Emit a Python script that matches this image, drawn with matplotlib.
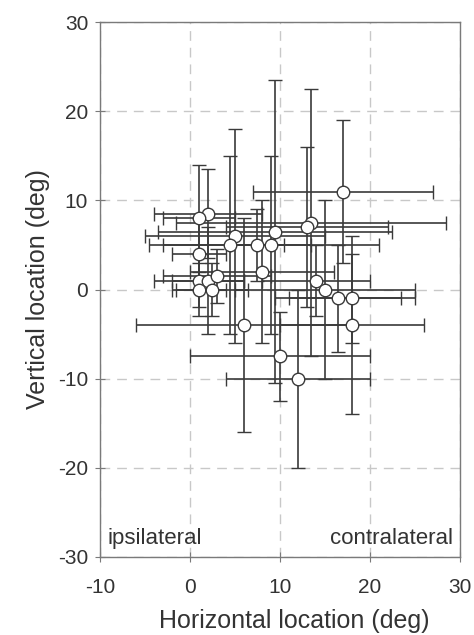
import matplotlib
matplotlib.use("Agg")
import matplotlib.pyplot as plt

# horizontal / vertical location (deg) with symmetric error bars
x_loc = [17, 2, 1, 13.5, 13, 9.5, 5, 4.5, 7.5, 9, 1, 8, 1, 2, 3, 1, 2.5,
         14, 15, 16.5, 18, 6, 18, 10, 12]
y_loc = [11, 8.5, 8, 7.5, 7, 6.5, 6, 5, 5, 5, 4, 2, 1, 1, 1.5, 0, 0,
         1, 0, -1, -1, -4, -4, -7.5, -10]
x_err = [10, 6, 4, 15, 9, 13, 10, 9, 3, 12, 3, 8, 5, 4, 6, 3, 4,
         6, 10, 7, 7, 12, 8, 10, 8]
y_err = [8, 5, 6, 15, 9, 17, 12, 10, 4, 10, 4, 8, 3, 6, 3, 3, 3,
         4, 10, 6, 5, 12, 10, 5, 10]

plt.rcParams["font.family"] = ["Liberation Sans", "DejaVu Sans"]
plt.rcParams["axes.unicode_minus"] = False

fig = plt.figure(figsize=(4.74, 6.35), dpi=100)
ax = fig.add_axes([0.211, 0.123, 0.759, 0.842])

ax.errorbar(x_loc, y_loc, xerr=x_err, yerr=y_err, fmt="o",
            color="#3a3a3a", ecolor="#3a3a3a", elinewidth=1.2,
            capsize=5, capthick=1.2, markersize=9,
            markerfacecolor="white", markeredgecolor="#3a3a3a",
            markeredgewidth=1.0, zorder=3)

ax.set_xlim(-10, 30)
ax.set_ylim(-30, 30)
ax.set_xticks([-10, 0, 10, 20, 30])
ax.set_yticks([-30, -20, -10, 0, 10, 20, 30])
ax.grid(True, color="#c8c8c8", linestyle=(0, (7, 5)), linewidth=1.0)
ax.set_axisbelow(True)
for sp in ax.spines.values():
    sp.set_color("#7a7a7a")
    sp.set_linewidth(1.0)
ax.tick_params(direction="inout", length=7, color="#7a7a7a",
               labelsize=15, labelcolor="#333333")
ax.tick_params(axis="x", pad=12)
ax.tick_params(axis="y", pad=5)

ax.set_xlabel("Horizontal location (deg)", fontsize=18, color="#333333")
ax.xaxis.set_label_coords(0.54, -0.097)
ax.set_ylabel("Vertical location (deg)", fontsize=18, color="#333333",
              labelpad=6)

ax.text(0.02, 0.015, "ipsilateral", transform=ax.transAxes, fontsize=16,
        color="#333333", ha="left", va="bottom")
ax.text(0.98, 0.015, "contralateral", transform=ax.transAxes, fontsize=16,
        color="#333333", ha="right", va="bottom")

fig.savefig("out.png", dpi=100)
